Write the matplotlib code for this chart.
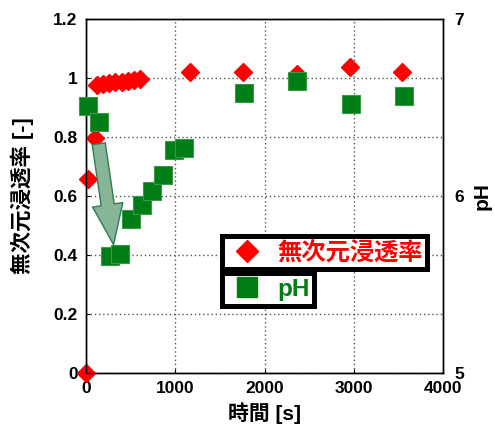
import matplotlib
matplotlib.use('Agg')
import matplotlib.pyplot as plt
from matplotlib.lines import Line2D

plt.rcParams['font.family'] = ['Liberation Sans', 'Noto Sans CJK JP', 'DejaVu Sans']
plt.rcParams['font.weight'] = 'bold'

# 無次元浸透率 (left axis)
t_perm = [0, 20, 105, 120, 190, 260, 330, 400, 470, 540, 600,
          1165, 1760, 2360, 2960, 3545]
perm = [0.0, 0.658, 0.795, 0.975, 0.979, 0.982, 0.985, 0.988, 0.990, 0.994, 0.997,
        1.019, 1.021, 1.013, 1.036, 1.021]

# pH (right axis)
t_ph = [20, 150, 265, 385, 505, 625, 745, 865, 990, 1100, 1765, 2365, 2965, 3565]
ph = [6.51, 6.42, 5.66, 5.67, 5.87, 5.95, 6.03, 6.12, 6.26, 6.27, 6.58, 6.65, 6.52, 6.565]

red = '#ff0000'
green = '#007d14'

fig = plt.figure(figsize=(4.95, 4.32), dpi=100)
ax = fig.add_axes([0.1737, 0.1366, 0.7213, 0.8194])
ax2 = ax.twinx()

ax.plot(t_perm, perm, 'D', color=red, ms=9, mec=red, zorder=3, clip_on=False)
ax2.plot(t_ph, ph, 's', color=green, ms=12.5, mec='#3a9a4a', mew=0.8, zorder=3, clip_on=False)

ax.set_xlim(0, 4000)
ax.set_ylim(0, 1.2)
ax2.set_ylim(5, 7)
ax.set_xticks([0, 1000, 2000, 3000, 4000])
ax.set_yticks([0, 0.2, 0.4, 0.6, 0.8, 1.0, 1.2])
ax.set_yticklabels(['0', '0.2', '0.4', '0.6', '0.8', '1', '1.2'])
ax2.set_yticks([5, 6, 7])

ax.grid(True, color='#555555', linestyle=(0, (1, 2)), linewidth=1.0)
ax.set_axisbelow(True)
ax.tick_params(direction='in', length=3, width=0.8, labelsize=12.5, pad=6)
ax2.tick_params(direction='in', length=0, labelsize=12.5, pad=8)
for a in (ax, ax2):
    for s in a.spines.values():
        s.set_linewidth(1.0)
    for lab in a.get_xticklabels() + a.get_yticklabels():
        lab.set_fontweight('bold')

ax.set_xlabel('時間 [s]', fontsize=15, fontweight='bold', labelpad=4)
ax.set_ylabel('無次元浸透率 [-]', fontsize=15.5, fontweight='bold', labelpad=14)
ax2.set_ylabel('pH', fontsize=15, fontweight='bold', labelpad=6, rotation=90)

# 矢印
ax2.annotate('', xy=(309, 5 + 0.435 / 0.6), xytext=(143, 5 + 0.777 / 0.6),
             arrowprops=dict(arrowstyle='simple,head_length=2.9,head_width=2.2,tail_width=0.95',
                             mutation_scale=10, fc='#87b597', ec='#2e7d4f', lw=1.0,
                             shrinkA=0, shrinkB=0),
             zorder=5)

h1 = Line2D([], [], marker='D', color=red, ls='none', ms=11)
h2 = Line2D([], [], marker='s', color=green, ls='none', ms=14)
leg1 = ax2.legend(handles=[h1], labels=['無次元浸透率'], loc='upper left',
                  bbox_to_anchor=(0.382, 0.387), fancybox=False, framealpha=1,
                  prop={'size': 17.5, 'weight': 'bold'}, handlelength=1.6,
                  handletextpad=0.45, borderpad=0.2, borderaxespad=0)
leg1.get_frame().set_edgecolor('black')
leg1.get_frame().set_linewidth(3.6)
leg1.get_texts()[0].set_color(red)
ax2.add_artist(leg1)
leg2 = ax2.legend(handles=[h2], labels=['pH'], loc='upper left',
                  bbox_to_anchor=(0.382, 0.283), fancybox=False, framealpha=1,
                  prop={'size': 17.5, 'weight': 'bold'}, handlelength=1.6,
                  handletextpad=0.45, borderpad=0.2, borderaxespad=0)
leg2.get_frame().set_edgecolor('black')
leg2.get_frame().set_linewidth(3.6)
leg2.get_texts()[0].set_color(green)

plt.savefig('out.png', dpi=100)
